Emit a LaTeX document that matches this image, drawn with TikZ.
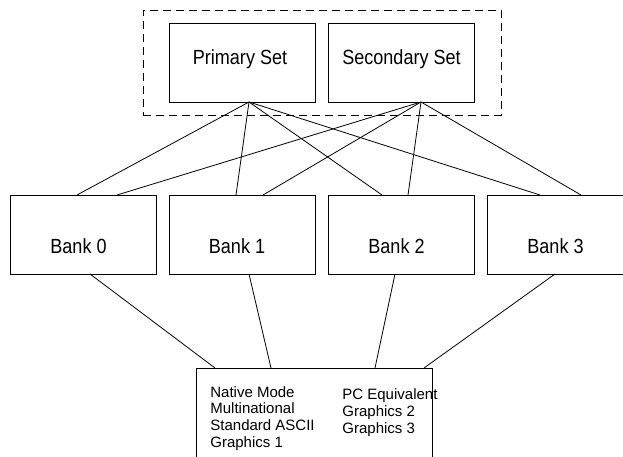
\documentclass[tikz,border=0pt]{standalone}
\usepackage{fontspec}
\setmainfont{Liberation Sans}
\newfontfamily\narrowsans[FakeStretch=0.88]{Liberation Sans}
\begin{document}
\begin{tikzpicture}[x=1pt,y=-1pt,line width=0.8pt,
  box/.style={draw,minimum width=146pt,minimum height=79pt,inner sep=0pt,outer sep=0pt},
  grp/.style={draw,dash pattern=on 8pt off 5pt,minimum width=358pt,minimum height=105pt,inner sep=0pt,outer sep=0pt},
  big/.style={font=\narrowsans\fontsize{20.5}{22}\selectfont,inner sep=0pt,anchor=base},
  small/.style={font=\fontsize{15}{16.7}\selectfont,inner sep=0pt,anchor=base west},
  link/.style={line width=0.8pt}]
\useasboundingbox (0,0) rectangle (623,457);
\clip (0,0) rectangle (623,457);
% group
\node[grp] (G) at (322,62.5) {};
% top boxes
\node[box] (P) at (242,62.5) {};
\node[box] (S) at (401,62.5) {};
\node[big] (Pt) at (240,64.3) {Primary Set};
\node[big] (St) at (401.5,64.3) {Secondary Set};
% banks
\node[box] (B0) at (83,234.5) {};
\node[box] (B1) at (242,234.5) {};
\node[box] (B2) at (401,234.5) {};
\node[box] (B3) at (560,234.5) {};
\node[big] (B0t) at (78.5,253.3) {Bank 0};
\node[big] (B1t) at (237,253.3) {Bank 1};
\node[big] (B2t) at (396.5,253.3) {Bank 2};
\node[big] (B3t) at (555.5,253.3) {Bank 3};
% bottom box
\node[draw,minimum width=236pt,minimum height=112pt,inner sep=0pt,outer sep=0pt] (M) at (314,424) {};
\node[small] (m1) at (210,397) {Native Mode};
\node[small] (m2) at (210,413.7) {Multinational};
\node[small] (m3) at (210,430.4) {Standard ASCII};
\node[small] (m4) at (210,447) {Graphics 1};
\node[small] (r1) at (342,399) {PC Equivalent};
\node[small] (r2) at (342,416) {Graphics 2};
\node[small] (r3) at (342,433) {Graphics 3};
% hubs
\coordinate (ph) at ([xshift=7pt]P.south);
\coordinate (sh) at ([xshift=20pt]S.south);
\draw[link] (ph) -- ([xshift=67pt]B0.north west);
\draw[link] (ph) -- ([xshift=67pt]B1.north west);
\draw[link] (ph) -- ([xshift=54pt]B2.north west);
\draw[link] (ph) -- ([xshift=53pt]B3.north west);
\draw[link] (sh) -- ([xshift=107pt]B0.north west);
\draw[link] (sh) -- ([xshift=94pt]B1.north west);
\draw[link] (sh) -- ([xshift=80pt]B2.north west);
\draw[link] (sh) -- ([xshift=94pt]B3.north west);
\draw[link] ([xshift=80pt]B0.south west) -- ([xshift=19pt]M.north west);
\draw[link] ([xshift=80pt]B1.south west) -- ([xshift=75pt]M.north west);
\draw[link] ([xshift=67pt]B2.south west) -- ([xshift=179pt]M.north west);
\draw[link] ([xshift=68pt]B3.south west) -- ([xshift=228pt]M.north west);
\end{tikzpicture}
\end{document}
